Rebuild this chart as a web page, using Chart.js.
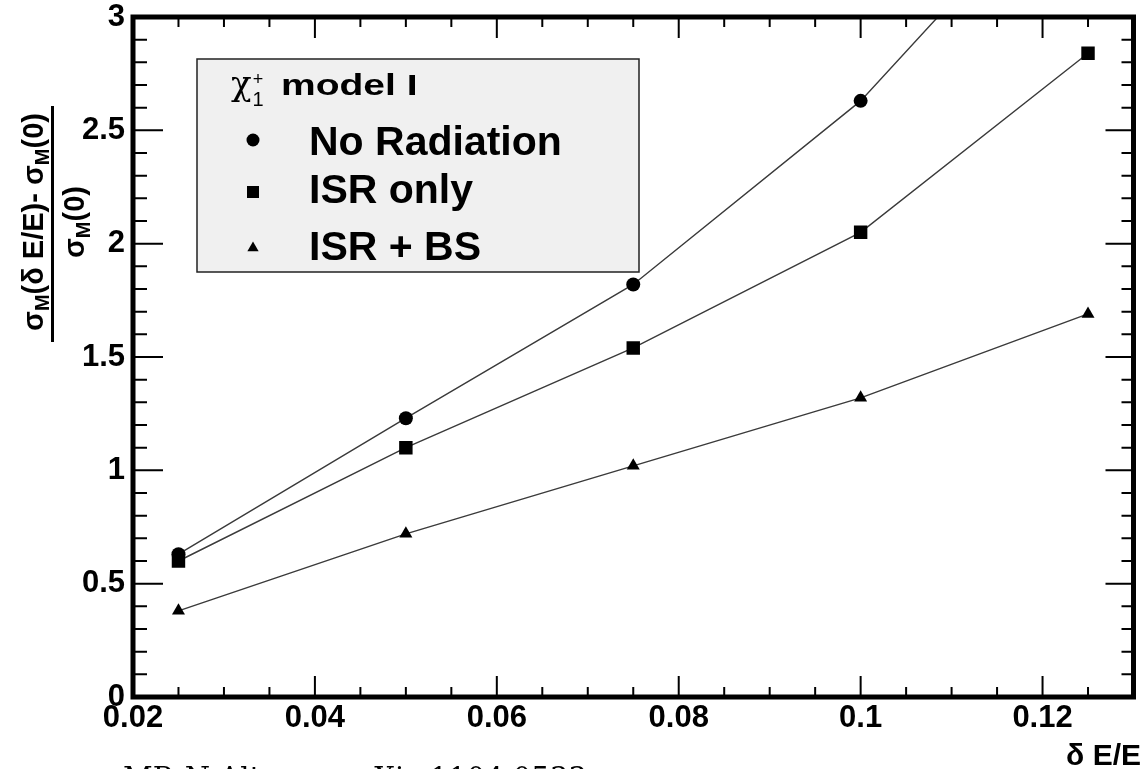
<!DOCTYPE html>
<html>
<head>
<meta charset="utf-8">
<title>Mass resolution vs beam energy spread</title>
<script src="https://cdn.jsdelivr.net/npm/chart.js@4.4.1/dist/chart.umd.min.js"></script>
<style>
    html, body { margin: 0; padding: 0; background: #fff; }
    #wrap { width: 1143px; height: 769px; }
</style>
</head>
<body>
<div id="wrap"><canvas id="chart" width="1143" height="769"></canvas></div>
<script>
// beam energy spread (x) and relative resolution change for each radiation setup
const energySpread = [0.025, 0.05, 0.075, 0.1, 0.125];
const noRadiation = [0.63, 1.23, 1.82, 2.63, 3.72];
const isrOnly = [0.60, 1.10, 1.54, 2.05, 2.84];
const isrPlusBs = [0.38, 0.72, 1.02, 1.32, 1.69];
const seriesNames = ['No Radiation', 'ISR only', 'ISR + BS'];
const pointStyles = ['circle', 'rect', 'triangle'];
const xTickValues = [0.02, 0.04, 0.06, 0.08, 0.1, 0.12];
const yTickValues = [0, 0.5, 1, 1.5, 2, 2.5, 3];

const SANS = 'Liberation Sans';
Chart.defaults.font.family = SANS;
Chart.defaults.color = '#000';

const toPoints = (ys) => energySpread.map((x, i) => ({ x: x, y: ys[i] }));

const makeSet = (label, ys, style, radius) => ({
    label: label,
    data: toPoints(ys),
    showLine: true,
    borderColor: '#3a3a3a',
    borderWidth: 1.4,
    pointStyle: style,
    pointRadius: radius,
    pointHoverRadius: radius,
    pointBackgroundColor: '#000',
    pointBorderWidth: 0,
});

// ROOT-like frame: thick box with inward major/minor ticks on all four sides
const framePlugin = {
    id: 'frame',
    afterDatasetsDraw(chart) {
        const { ctx, chartArea, scales } = chart;
        const { left, right, top, bottom } = chartArea;
        ctx.save();
        ctx.strokeStyle = '#000';
        ctx.lineWidth = 2;
        ctx.beginPath();
        for (let i = 0; i <= 22; i++) {
            const px = scales.x.getPixelForValue(0.02 + i * 0.005);
            const len = i % 4 === 0 ? 21 : 10;
            ctx.moveTo(px, bottom); ctx.lineTo(px, bottom - len);
            ctx.moveTo(px, top); ctx.lineTo(px, top + len);
        }
        for (let i = 0; i <= 30; i++) {
            const py = scales.y.getPixelForValue(i * 0.1);
            const len = i % 5 === 0 ? 30 : 14;
            ctx.moveTo(left, py); ctx.lineTo(left + len, py);
            ctx.moveTo(right, py); ctx.lineTo(right - len + 2, py);
        }
        ctx.stroke();
        ctx.lineWidth = 5;
        ctx.strokeRect(left, top, right - left, bottom - top);
        ctx.restore();
    }
};

// legend box in the upper left of the plot
const legendBoxPlugin = {
    id: 'legendBox',
    afterDatasetsDraw(chart) {
        const ctx = chart.ctx;
        ctx.save();
        ctx.fillStyle = '#f0f0f0';
        ctx.fillRect(197, 59, 442, 213);
        ctx.strokeStyle = '#222';
        ctx.lineWidth = 1.5;
        ctx.strokeRect(197, 59, 442, 213);

        ctx.fillStyle = '#000';
        ctx.textBaseline = 'alphabetic';
        ctx.textAlign = 'left';
        ctx.font = '34px "DejaVu Serif"';
        ctx.fillText('χ', 231, 95);
        ctx.textAlign = 'center';
        ctx.font = '18px ' + SANS;
        ctx.fillText('+', 258, 85);
        ctx.font = '20px ' + SANS;
        ctx.fillText('1', 258, 106);
        ctx.textAlign = 'left';
        ctx.save();
        ctx.translate(281, 95);
        ctx.scale(1.3, 1);
        ctx.font = 'bold 30px ' + SANS;
        ctx.fillText('model I', 0, 0);
        ctx.restore();

        const rowY = [140, 192, 248];
        const baseY = [155, 203, 260];
        const radii = [6.5, 8.5, 6.5];
        seriesNames.forEach((name, i) => {
            Chart.helpers.drawPoint(ctx, {
                pointStyle: pointStyles[i], radius: radii[i], rotation: 0, borderWidth: 0
            }, 253, rowY[i]);
            ctx.font = 'bold 41px ' + SANS;
            ctx.fillText(name, 309, baseY[i]);
        });
        ctx.restore();
    }
};

// draws a run of text pieces, some of them as subscripts, centred on x = 0
const drawRuns = (ctx, runs) => {
    const widths = runs.map(r => { ctx.font = r.font; return ctx.measureText(r.text).width; });
    let x = -widths.reduce((a, b) => a + b, 0) / 2;
    runs.forEach((r, i) => {
        ctx.font = r.font;
        ctx.fillText(r.text, x, r.dy || 0);
        x += widths[i];
    });
};

const axisTitlePlugin = {
    id: 'axisTitles',
    afterDraw(chart) {
        const ctx = chart.ctx;
        const main = 'bold 29px ' + SANS;
        const sub = 'bold 20px ' + SANS;
        ctx.save();
        ctx.fillStyle = '#000';
        ctx.textAlign = 'left';
        ctx.textBaseline = 'alphabetic';

        // y title: sigma_M(dE/E) - sigma_M(0) over sigma_M(0)
        ctx.save();
        ctx.translate(43, 222);
        ctx.rotate(-Math.PI / 2);
        drawRuns(ctx, [
            { text: 'σ', font: main }, { text: 'M', font: sub, dy: 6 },
            { text: '(δ E/E)- σ', font: main }, { text: 'M', font: sub, dy: 6 },
            { text: '(0)', font: main }
        ]);
        ctx.restore();
        ctx.save();
        ctx.translate(84, 222);
        ctx.rotate(-Math.PI / 2);
        drawRuns(ctx, [
            { text: 'σ', font: main }, { text: 'M', font: sub, dy: 6 },
            { text: '(0)', font: main }
        ]);
        ctx.restore();
        ctx.fillRect(51, 106, 3, 236);

        // x title
        ctx.textAlign = 'right';
        ctx.font = 'bold 30px ' + SANS;
        ctx.fillText('δ E/E', 1141, 765);

        // reference note under the plot
        ctx.textAlign = 'left';
        ctx.font = '29px "DejaVu Serif"';
        ctx.fillText('MP, N Altman, arXiv 1104.0533', 123, 788);
        ctx.restore();
    }
};

const tickFont = { family: SANS, size: 31, weight: 'bold', lineHeight: 1 };
const yTickFont = { family: SANS, size: 31, weight: 'bold', lineHeight: 0.5 };

new Chart(document.getElementById('chart'), {
    type: 'scatter',
    data: {
        datasets: [
            makeSet(seriesNames[0], noRadiation, pointStyles[0], 7),
            makeSet(seriesNames[1], isrOnly, pointStyles[1], 9.5),
            makeSet(seriesNames[2], isrPlusBs, pointStyles[2], 7.5),
        ]
    },
    options: {
        responsive: false,
        animation: false,
        devicePixelRatio: 1,
        layout: { padding: { top: 17, right: 2, left: 0, bottom: 0 } },
        plugins: {
            legend: { display: false },
            tooltip: { enabled: false },
        },
        scales: {
            x: {
                type: 'linear',
                min: 0.02,
                max: 0.13,
                grid: { display: false, drawTicks: false },
                border: { display: false },
                ticks: {
                    font: tickFont, color: '#000', padding: 6, maxRotation: 0, autoSkip: false,
                    callback: (v) => String(v),
                },
                afterBuildTicks: (s) => { s.ticks = xTickValues.map(v => ({ value: v })); },
                afterFit: (s) => { s.height = 72; },
            },
            y: {
                type: 'linear',
                min: 0,
                max: 3,
                grid: { display: false, drawTicks: false },
                border: { display: false },
                ticks: {
                    font: yTickFont, color: '#000', padding: 8, autoSkip: false,
                    callback: (v) => String(v),
                },
                afterBuildTicks: (s) => { s.ticks = yTickValues.map(v => ({ value: v })); },
                afterFit: (s) => { s.width = 133; },
            },
        },
    },
    plugins: [framePlugin, legendBoxPlugin, axisTitlePlugin],
});
</script>
</body>
</html>
